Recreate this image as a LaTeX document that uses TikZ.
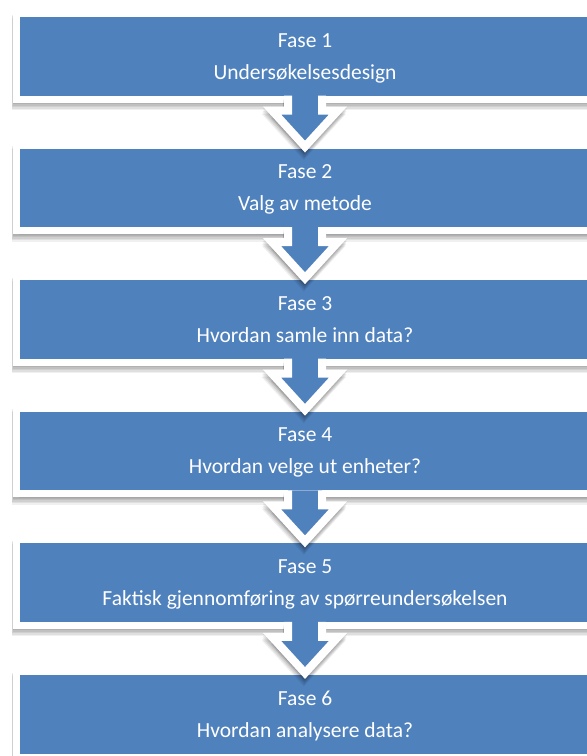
\documentclass[tikz,border=0pt]{standalone}
\usepackage{fontspec}
\setmainfont{Carlito}
\usetikzlibrary{calc}
\definecolor{fasebla}{RGB}{79,129,189}
\tikzset{
  skygge/.style={preaction={draw=black, fill=black, line width=#1, opacity=.07, transform canvas={shift={(0pt,-1.5pt)}}},
    preaction={draw=black, fill=black, line width=#1, opacity=.07, transform canvas={shift={(-.3pt,-3pt)}}},
    preaction={draw=black, fill=black, line width=#1, opacity=.07, transform canvas={shift={(-.6pt,-4.5pt)}}},
    preaction={draw=black, fill=black, line width=#1, opacity=.07, transform canvas={shift={(-.9pt,-6pt)}}},
    preaction={draw=black, fill=black, line width=#1, opacity=.06, transform canvas={shift={(-1.2pt,-7.5pt)}}}},
  fase/.style={fill=fasebla, text=white, align=center,
    minimum width=570pt, minimum height=78.5pt, inner sep=0pt, outer sep=0pt,
    text depth=-3pt, font=\fontsize{21.5}{32}\selectfont,
    skygge=14pt, preaction={draw=white, line width=14pt}},
  pil/.style={fill=fasebla, draw=white, line width=8pt, line join=miter, skygge=8pt}
}
\newcommand{\fasepil}[2]{%
  \filldraw[pil] ($(#1.south)+(-17,0)$) -- ($(#1.south)+(-17,15)$) -- ($(#1.south)+(-33,15)$)
    -- ($(#2.north)+(0,-2)$) -- ($(#1.south)+(33,15)$) -- ($(#1.south)+(17,15)$) -- ($(#1.south)+(17,0)$);}
\begin{document}
\begin{tikzpicture}[x=1pt, y=-1pt]
  \useasboundingbox (0,0) rectangle (587,756);
  \clip (0,0) rectangle (587,756);
  \fill [white] (0,0) rectangle (587,756);

  \node [fase] (f1) at (305,56.25) {Fase 1\\Undersøkelsesdesign};
  \node [fase] (f2) at (305,187.85) {Fase 2\\Valg av metode};
  \node [fase] (f3) at (305,319.45) {Fase 3\\Hvordan samle inn data?};
  \node [fase] (f4) at (305,451.05) {Fase 4\\Hvordan velge ut enheter?};
  \node [fase] (f5) at (305,582.65) {Fase 5\\Faktisk gjennomføring av spørreundersøkelsen};
  \node [fase] (f6) at (305,714.25) {Fase 6\\Hvordan analysere data?};

  \fasepil{f1}{f2}
  \fasepil{f2}{f3}
  \fasepil{f3}{f4}
  \fasepil{f4}{f5}
  \fasepil{f5}{f6}
\end{tikzpicture}
\end{document}
